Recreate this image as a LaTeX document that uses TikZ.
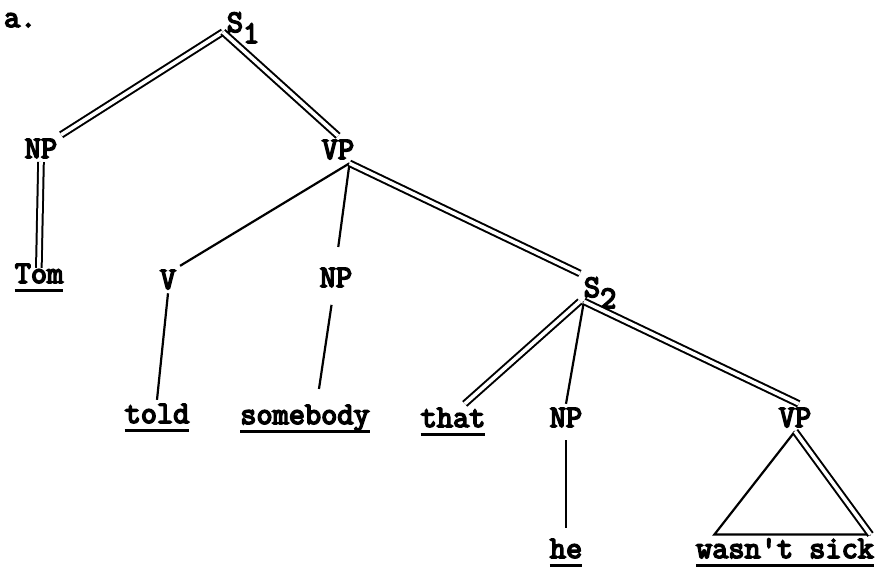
\documentclass[tikz,border=0pt]{standalone}
\usepackage{fontspec}
\newfontfamily\typewr{Latin Modern Mono}[FakeBold=5]
\usetikzlibrary{calc}
\newcommand{\subidx}[1]{\rlap{\smash{\raisebox{-5.5pt}{#1}}}}
\newcommand{\uword}[1]{\setbox0=\hbox{#1}\rlap{\rule[-4.5pt]{\wd0}{1.5pt}}\box0}
\begin{document}
\begin{tikzpicture}[
x=0.5pt, y=-0.5pt,
cat/.style={inner sep=0pt, outer sep=2pt, anchor=base, font=\fontsize{15.7}{18}\selectfont\typewr},
branch/.style={line width=1.1pt},
dbl/.style={double, double distance=1.8pt, line width=1pt}
]
\useasboundingbox (0,0) rectangle (877,569);
\node[cat, anchor=base west] (lbl) at (0,27) {a.};
\node[cat] (s1) at (235,32) {S\subidx{1}};
\node[cat] (np1) at (41,158) {NP};
\node[cat] (vp1) at (338,159) {VP};
\node[cat] (tom) at (39,283) {\uword{Tom}};
\node[cat] (v) at (168,289) {V};
\node[cat] (np2) at (336,287) {NP};
\node[cat] (s2) at (592,297) {S\subidx{2}};
\node[cat] (told) at (157,423) {\uword{told}};
\node[cat] (somebody) at (305,424) {\uword{somebody}};
\node[cat] (that) at (453,427) {\uword{that}};
\node[cat] (np3) at (566,427) {NP};
\node[cat] (vp2) at (795,427) {VP};
\node[cat] (he) at (566,558) {\uword{he}};
\node[cat] (sick) at (785,558) {\uword{wasn\textquotesingle t sick}};
\coordinate (tl) at ($(sick.north west)!0.12!(sick.north east)$);
\coordinate (tr) at ($(sick.north west)!0.96!(sick.north east)$);
\draw[dbl] (s1.base west) -- (np1.north east);
\draw[dbl] (s1.base west) -- (vp1.north);
\draw[dbl, shorten >=-4pt] (np1.south) -- (tom.north);
\draw[branch] (vp1.-50) -- (v.north east);
\draw[branch, shorten >=8.5pt] (vp1.-50) -- (np2.north);
\draw[dbl] (vp1.-50) -- (s2.north west);
\draw[branch] (v.south) -- (told.north);
\draw[branch, shorten <=7pt, shorten >=6pt] (np2.-100) -- (somebody.56);
\draw[dbl] (s2.south west) -- (that.57);
\draw[branch] (s2.-120) -- (np3.north);
\draw[dbl] (s2.-120) -- (vp2.75);
\draw[branch, shorten <=4.5pt, shorten >=3.5pt] (np3.south) -- (he.north);
\draw[branch] (vp2.south) -- (tl) -- (tr);
\draw[dbl] (vp2.south) -- (tr);
\end{tikzpicture}
\end{document}
